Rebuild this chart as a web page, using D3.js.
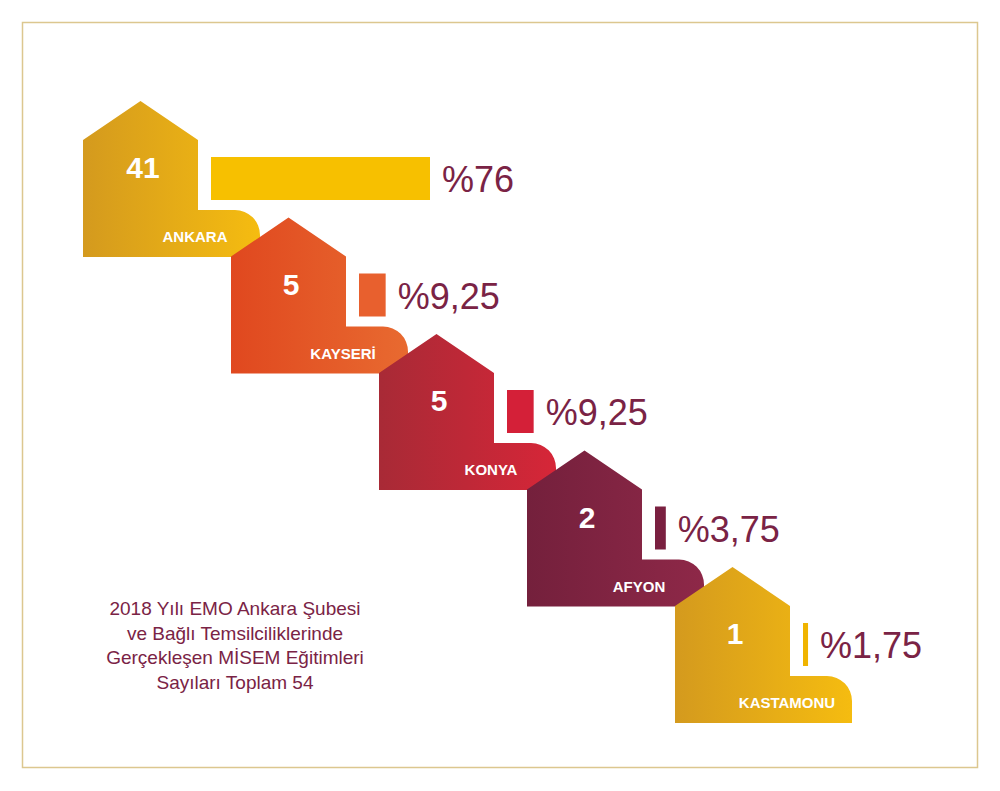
<!DOCTYPE html>
<html><head><meta charset="utf-8">
<script src="https://cdn.jsdelivr.net/npm/d3@7"></script>
<style>body{margin:0;background:#fff}svg{display:block}</style>
</head><body>
<svg id="chart" width="1000" height="791"></svg>
<script>
const cities = ['ANKARA', 'KAYSERİ', 'KONYA', 'AFYON', 'KASTAMONU'];
const counts = [41, 5, 5, 2, 1];
const percents = [76, 9.25, 9.25, 3.75, 1.75];
const percentLabels = ['%76', '%9,25', '%9,25', '%3,75', '%1,75'];
const houseColors = [['#d49a1e', '#f5bc10'], ['#e0481f', '#e86a30'], ['#a82a36', '#d62638'], ['#74203c', '#8e2848'], ['#d49a1e', '#f5bc10']];
const barColors = ['#f7c000', '#e8602e', '#d42038', '#7a2040', '#f0b400'];
const titleLines = ['2018 Yılı EMO Ankara Şubesi', 've Bağlı Temsilciliklerinde', 'Gerçekleşen MİSEM Eğitimleri', 'Sayıları Toplam 54'];

const svg = d3.select('#chart');
svg.append('rect').attr('x', 22.5).attr('y', 22.5).attr('width', 955).attr('height', 745)
  .attr('fill', 'none').attr('stroke', '#dcc78f').attr('stroke-width', 1.5);

const xPos = d3.scalePoint().domain(cities).range([83, 675]);
const yBase = d3.scalePoint().domain(cities).range([257, 723]);
const barW = d3.scaleLinear().domain([0, 76]).range([0, 219]);

const defs = svg.append('defs');
cities.forEach((c, i) => {
  const g = defs.append('linearGradient').attr('id', 'g' + i);
  g.append('stop').attr('offset', '0%').attr('stop-color', houseColors[i][0]);
  g.append('stop').attr('offset', '100%').attr('stop-color', houseColors[i][1]);
});

function housePath(x, b) {
  const w = 115, r = 25, tabR = x + 177, tabTop = b - 47;
  return `M${x},${b} L${x},${b - 117} L${x + w / 2},${b - 156} L${x + w},${b - 117} L${x + w},${tabTop}
    L${tabR - r},${tabTop} A${r},${r} 0 0 1 ${tabR},${tabTop + r} L${tabR},${b} Z`;
}

const g = svg.selectAll('g.city').data(cities).enter().append('g').attr('class', 'city');
g.append('path').attr('d', d => housePath(xPos(d), yBase(d))).attr('fill', (d, i) => `url(#g${i})`);
g.append('rect')
  .attr('x', d => xPos(d) + 128).attr('y', d => yBase(d) - 100)
  .attr('width', (d, i) => barW(percents[i])).attr('height', 43)
  .attr('fill', (d, i) => barColors[i]);
g.append('text')
  .attr('x', (d, i) => xPos(d) + 140 + barW(percents[i]))
  .attr('y', d => yBase(d) - 65)
  .attr('font-family', 'Arial, Liberation Sans, sans-serif').attr('font-size', 36)
  .attr('fill', '#7a2345').text((d, i) => percentLabels[i]);
g.append('text')
  .attr('x', d => xPos(d) + 60).attr('y', d => yBase(d) - 79)
  .attr('text-anchor', 'middle').attr('font-family', 'Arial, Liberation Sans, sans-serif')
  .attr('font-weight', 'bold').attr('font-size', 30).attr('fill', '#fff')
  .text((d, i) => counts[i]);
g.append('text')
  .attr('x', d => xPos(d) + 112).attr('y', d => yBase(d) - 15)
  .attr('text-anchor', 'middle').attr('font-family', 'Arial, Liberation Sans, sans-serif')
  .attr('font-weight', 'bold').attr('font-size', 15).attr('fill', '#fff')
  .text(d => d);

svg.append('g').selectAll('text').data(titleLines).enter().append('text')
  .attr('x', 235).attr('y', (d, i) => 615 + i * 24.5)
  .attr('text-anchor', 'middle').attr('font-family', 'Arial, Liberation Sans, sans-serif')
  .attr('font-size', 19).attr('fill', '#7a2345').text(d => d);
</script>
</body></html>
